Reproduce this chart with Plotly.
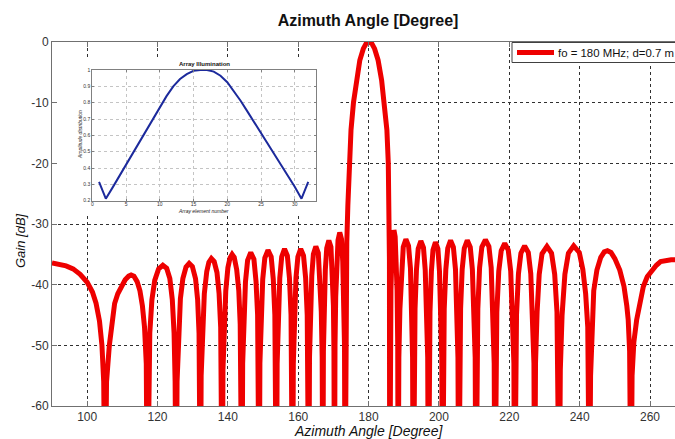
import plotly.graph_objects as go

# ---------------- data ----------------
# Main beam pattern: azimuth angle [deg] and gain [dB]; -80 marks nulls below the axis
angles_left = [90, 92, 94, 96, 98, 100, 101.5, 102.5, 103.5, 104.2, 104.7, 105.1,
    105.5, 106.3, 107.0, 107.8, 108.7, 109.7, 110.8, 111.8, 112.5, 113.3, 114.2, 115.0, 115.7, 116.3, 116.8, 117.1,
    117.4, 117.8, 118.4, 119.2, 120.3, 121.5, 122.6, 123.5, 124.2, 124.7, 125.0, 125.3,
    125.55, 125.9, 126.5, 127.2, 128.1, 129.0, 129.9, 130.8, 131.4, 131.8, 132.0, 132.2,
    132.4, 132.8, 133.3, 134.0, 134.6, 135.3, 136.1, 136.9, 137.5, 137.95, 138.2, 138.4,
    138.6, 138.95, 139.4, 140.0, 140.6, 141.2, 141.8, 142.5, 143.1, 143.5, 143.8, 144.0,
    144.2, 144.55, 145.0, 145.6, 146.5, 147.4, 148.0, 148.45, 148.7, 148.9,
    149.1, 149.45, 149.9, 150.5, 151.4, 152.3, 152.9, 153.35, 153.6, 153.8,
    154.0, 154.3, 154.75, 155.3, 156.1, 156.9, 157.5, 157.95, 158.2, 158.4,
    158.6, 158.9, 159.35, 159.9, 160.7, 161.5, 162.1, 162.55, 162.8, 163.0,
    163.2, 163.45, 163.85, 164.3, 165.0, 165.7, 166.15, 166.55, 166.8, 167.0,
    167.15, 167.4, 167.7, 168.1, 168.7, 169.3, 169.7, 170.0, 170.15, 170.3,
    170.45, 170.65, 170.95, 171.3, 171.8, 172.3, 172.65, 172.95, 173.15, 173.3]
gain_left = [-36.4, -36.6, -36.9, -37.4, -38.3, -39.6, -41.2, -43.0, -46.0, -50.0, -56.0, -80,
    -56, -50, -46, -43.1, -41.5, -40.3, -39.2, -38.6, -38.4, -38.6, -39.5, -41.0, -43.5, -47, -53, -80,
    -56, -48, -42.5, -39.3, -37.4, -36.8, -37.3, -39.0, -42.5, -48, -56, -80,
    -56, -48, -42.3, -39.0, -37.1, -36.5, -37.0, -39.0, -42.5, -48, -56, -80,
    -55, -47, -41.5, -37.8, -36.3, -35.7, -36.2, -38.0, -41.5, -47, -55, -80,
    -54, -46.5, -41, -37.2, -35.6, -35.0, -35.5, -37.5, -41, -46.5, -54, -80,
    -53, -45, -39.5, -36.0, -34.7, -35.8, -39.5, -45, -53, -80,
    -53, -45, -39.1, -35.6, -34.3, -35.4, -39.1, -45, -53, -80,
    -53, -45, -38.9, -35.4, -34.1, -35.2, -38.9, -45, -53, -80,
    -53, -45, -38.9, -35.4, -34.1, -35.2, -38.9, -45, -53, -80,
    -52, -44.5, -38.5, -35.0, -33.7, -34.8, -38.5, -44.5, -52, -80,
    -51, -43.5, -37.5, -34.0, -32.7, -33.8, -37.5, -43.5, -51, -80,
    -50, -42, -36.2, -32.7, -31.4, -32.5, -36.2, -42, -50, -80]

angles_main = [173.45, 173.6, 173.8, 174.1, 174.5, 175.0, 175.7, 176.5, 177.5, 178.5, 179.3,
    180.1, 180.9, 181.7, 182.7, 183.7, 184.5, 185.2, 185.6, 185.8, 185.92, 186.0]
gain_main = [-50, -40, -33, -27, -20, -14.5, -10, -6.3, -3.0, -1.1, -0.25,
    0, -0.25, -1.1, -3.0, -6.3, -10, -14.5, -20, -27, -36, -80]

angles_right = [186.15, 186.35, 186.6, 186.85, 187.2, 187.55, 187.85, 188.1, 188.28, 188.4,
    188.6, 188.9, 189.3, 189.85, 190.6, 191.35, 191.9, 192.3, 192.5, 192.7,
    192.9, 193.2, 193.6, 194.1, 194.85, 195.6, 196.1, 196.5, 196.8, 197.0,
    197.2, 197.45, 197.85, 198.3, 199.0, 199.7, 200.15, 200.55, 200.8, 201.0,
    201.2, 201.5, 201.95, 202.5, 203.3, 204.1, 204.7, 205.15, 205.4, 205.6,
    205.8, 206.15, 206.6, 207.2, 208.05, 208.9, 209.5, 209.95, 210.3, 210.5,
    210.7, 211.05, 211.55, 212.2, 213.2, 214.2, 214.85, 215.35, 215.7, 215.9,
    216.1, 216.45, 217.0, 217.7, 218.7, 219.7, 220.4, 220.95, 221.3, 221.5,
    221.7, 222.05, 222.6, 223.3, 224.35, 225.4, 226.1, 226.65, 227.0, 227.2,
    227.45, 227.9, 228.5, 229.3, 230.7, 232.0, 232.9, 233.55, 233.95, 234.2,
    234.5, 235.0, 235.8, 236.8, 238.3, 239.9, 240.9, 241.7, 242.3, 242.6, 242.8,
    243.1, 243.5, 244.0, 244.9, 246.0, 247.0, 247.9, 248.9, 250.0, 251.4, 252.6, 253.4, 253.8, 254.2, 254.6,
    254.9, 255.4, 256.2, 257.1, 258.1, 259.2, 260.5, 261.8, 263.0, 264.5, 266.0, 268.0, 270.0]
gain_right = [-50, -41, -35.5, -32.3, -31.0, -32.1, -35.5, -41, -50, -80,
    -52, -44, -37.3, -33.8, -32.5, -33.6, -37.3, -44, -52, -80,
    -52, -44, -37.6, -34.1, -32.8, -33.9, -37.6, -44, -52, -80,
    -52, -44.5, -37.8, -34.3, -33.0, -34.1, -37.8, -44.5, -52, -80,
    -52, -44, -37.5, -34.0, -32.7, -33.8, -37.5, -44, -52, -80,
    -52, -44, -37.5, -34.0, -32.7, -33.8, -37.5, -44, -52, -80,
    -53, -44, -37.2, -33.8, -32.6, -33.7, -37.2, -44, -53, -80,
    -53, -44.5, -37.8, -34.4, -33.2, -34.3, -37.8, -44.5, -53, -80,
    -53, -45, -38.2, -34.8, -33.6, -34.7, -38.2, -45, -53, -80,
    -53, -44.5, -38.3, -34.9, -33.7, -34.8, -38.3, -44.5, -53, -80,
    -54, -45, -38.3, -34.8, -33.6, -34.7, -37.5, -41.5, -47, -55, -80,
    -55, -46, -41, -37.6, -35.5, -34.6, -34.4, -34.7, -35.7, -37.6, -40.3, -43.5, -45.8, -51, -80,
    -55, -49.5, -45.8, -42.8, -40.3, -38.7, -37.6, -36.8, -36.2, -35.95, -35.9, -35.9, -35.9]

# Inset: array illumination (amplitude per element)
element_number = list(range(1, 33))
amplitude = [0.315, 0.212, 0.28, 0.35, 0.42, 0.49, 0.56, 0.63, 0.70, 0.77, 0.84, 0.90,
             0.945, 0.975, 0.995, 1.0, 1.0, 0.99, 0.965, 0.925, 0.87, 0.81, 0.745, 0.68,
             0.61, 0.545, 0.48, 0.415, 0.35, 0.285, 0.212, 0.315]

x_ticks = [100, 120, 140, 160, 180, 200, 220, 240, 260]
x_ticktext = ["100", "120", "140", "160", "180", "200", "220", "240", "260"]
y_ticks = [-60, -50, -40, -30, -20, -10, 0]
y_ticktext = ["-60", "-50", "-40", "-30", "-20", "-10", "0"]
inset_x_ticks = [0, 5, 10, 15, 20, 25, 30]
inset_y_ticks = [0.2, 0.3, 0.4, 0.5, 0.6, 0.7, 0.8, 0.9, 1.0]
inset_y_ticktext = ["0.2", "0.3", "0.4", "0.5", "0.6", "0.7", "0.8", "0.9", "1"]

legend_label = "fo = 180 MHz; d=0.7 m"
title_text = "Azimuth Angle [Degree]"
xlabel_text = "Azimuth Angle [Degree]"
ylabel_text = "Gain [dB]"
inset_title = "Array Illumination"
inset_xlabel = "Array element number"
inset_ylabel = "Amplitude distribution"

assert len(angles_left) == len(gain_left)
assert len(angles_main) == len(gain_main)
assert len(angles_right) == len(gain_right)

angles = angles_left + angles_main + angles_right
gain = gain_left + gain_main + gain_right

# ---------------- figure ----------------
W, H = 675, 439
ML, MR, MT, MB = 52, 0, 42, 33
PW, PH = W - ML - MR, H - MT - MB

def px2paper_x(px):
    return (px - ML) / PW

def px2paper_y(py):
    return (H - MB - py) / PH

FONT = "Arial, Liberation Sans, sans-serif"
RED = "#ee0000"

fig = go.Figure()
fig.add_trace(go.Scatter(
    x=angles, y=gain, mode="lines", name=legend_label,
    line=dict(color=RED, width=5),
    xaxis="x", yaxis="y", showlegend=False,
))
fig.add_trace(go.Scatter(
    x=element_number, y=amplitude, mode="lines", name=inset_title,
    line=dict(color="#1c2a9c", width=2),
    xaxis="x2", yaxis="y2", showlegend=False,
))

# white background of the inset figure (hides main grid)
fig.add_shape(type="rect", xref="x", yref="y", x0=90, x1=172, y0=-2.5, y1=-28.7,
              fillcolor="white", line=dict(width=0), layer="between")

# legend box (MATLAB style, partly cut by the right edge)
fig.add_shape(type="rect", xref="paper", yref="paper",
              x0=px2paper_x(512), x1=px2paper_x(720), y0=px2paper_y(62.5), y1=px2paper_y(42.5),
              fillcolor="white", line=dict(color="#404040", width=1), layer="above")
fig.add_shape(type="line", xref="paper", yref="paper",
              x0=px2paper_x(517), x1=px2paper_x(554), y0=px2paper_y(52.5), y1=px2paper_y(52.5),
              line=dict(color=RED, width=5), layer="above")

axis_col = "#707070"
fig.update_layout(
    width=W, height=H,
    margin=dict(l=ML, r=MR, t=MT, b=MB, autoexpand=False),
    paper_bgcolor="white", plot_bgcolor="white",
    font=dict(family=FONT, color="#222222", size=12),
    title=dict(text="<b>" + title_text + "</b>", x=368 / W, xref="container", xanchor="center",
               y=1 - 20 / H, yref="container", yanchor="middle",
               font=dict(size=16, color="#111111", family=FONT)),
    xaxis=dict(range=[90, 267.1], tickvals=x_ticks, ticktext=x_ticktext,
               showgrid=True, gridcolor="#303030", griddash="dot", gridwidth=1,
               zeroline=False, showline=True, linecolor=axis_col, linewidth=1,
               mirror="ticks", ticks="inside", ticklen=5, tickcolor=axis_col,
               tickfont=dict(size=12, color="#333333"), domain=[0, 1]),
    yaxis=dict(range=[-60, 0], tickvals=y_ticks, ticktext=y_ticktext,
               showgrid=True, gridcolor="#303030", griddash="dot", gridwidth=1,
               zeroline=False, showline=True, linecolor=axis_col, linewidth=1,
               ticks="inside", ticklen=5, tickcolor=axis_col,
               tickfont=dict(size=12, color="#333333"), domain=[0, 1]),
    xaxis2=dict(range=[0, 33.15], tickvals=inset_x_ticks, anchor="y2",
                domain=[px2paper_x(92.3), px2paper_x(316)],
                showgrid=True, gridcolor="#c4c4c4", griddash="dot", gridwidth=1,
                zeroline=False, showline=True, linecolor="#808080", linewidth=1,
                mirror="ticks", ticks="inside", ticklen=2, tickcolor="#808080",
                ticklabelstandoff=-2,
                tickfont=dict(size=5, color="#333333")),
    yaxis2=dict(range=[0.2, 1.0], tickvals=inset_y_ticks, ticktext=inset_y_ticktext, anchor="x2",
                domain=[px2paper_y(200.7), px2paper_y(70)],
                showgrid=True, gridcolor="#c4c4c4", griddash="dot", gridwidth=1,
                zeroline=False, showline=True, linecolor="#808080", linewidth=1,
                mirror="ticks", ticks="inside", ticklen=2, tickcolor="#808080",
                tickfont=dict(size=5, color="#333333")),
    showlegend=False,
)

annotations = [
    dict(text="<i>" + xlabel_text + "</i>", x=px2paper_x(368), y=px2paper_y(431),
         font=dict(size=14, color="#111111")),
    dict(text="<i>" + ylabel_text + "</i>", x=px2paper_x(20), y=px2paper_y(241), textangle=-90,
         font=dict(size=13, color="#111111")),
    dict(text="<b>" + inset_title + "</b>", x=px2paper_x(204), y=px2paper_y(64),
         font=dict(size=6, color="#111111")),
    dict(text="<i>" + inset_xlabel + "</i>", x=px2paper_x(203), y=px2paper_y(210.5),
         font=dict(size=5, color="#222222")),
    dict(text="<i>" + inset_ylabel + "</i>", x=px2paper_x(80), y=px2paper_y(135), textangle=-90,
         font=dict(size=5, color="#222222")),
    dict(text=legend_label, x=px2paper_x(556), y=px2paper_y(52.5), xanchor="left",
         font=dict(size=11.4, color="#111111")),
]
for a in annotations:
    a.setdefault("xanchor", "center")
    a.update(xref="paper", yref="paper", showarrow=False, yanchor="middle")
fig.update_layout(annotations=annotations)

fig.write_html("out.html")
